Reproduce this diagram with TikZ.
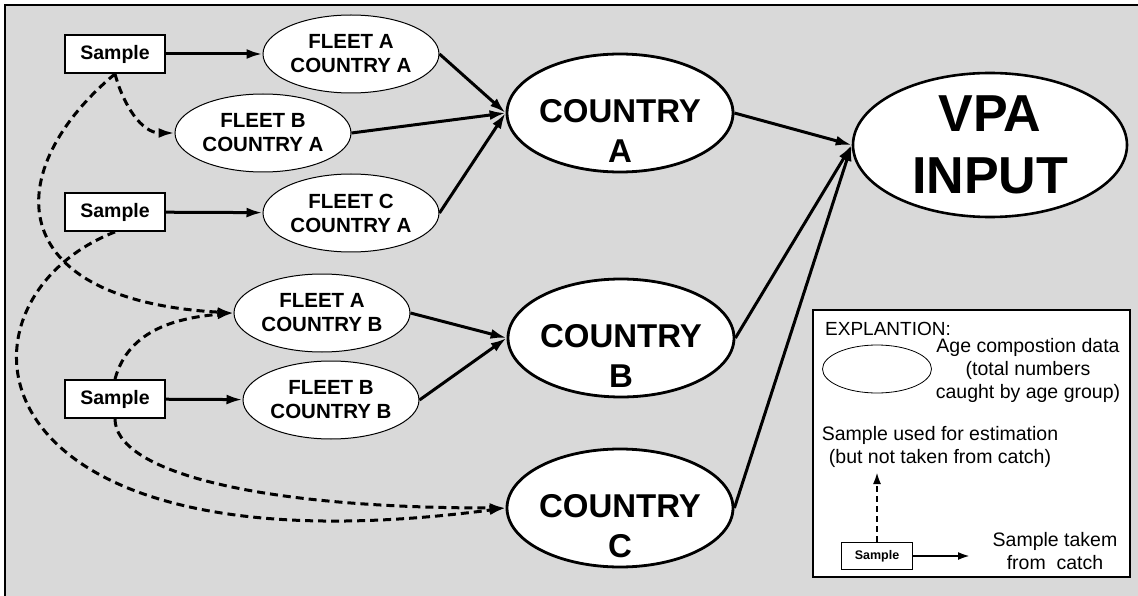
\documentclass[tikz,border=0pt]{standalone}
\usepackage{fontspec}
\setmainfont{Liberation Sans}
\usetikzlibrary{shapes,arrows,arrows.meta}

\begin{document}
\begin{tikzpicture}[x=1pt,y=-1pt]

  \tikzstyle{samplenode}=[draw,rectangle,fill=white,line width=1.8pt,minimum height=38pt,minimum width=100pt,inner sep=0pt,font=\fontsize{19.5}{22}\selectfont\bfseries]
  \tikzstyle{fleetnode}=[draw,ellipse,fill=white,line width=1pt,minimum height=78pt,minimum width=176pt,inner sep=0pt,align=center,font=\fontsize{20.5}{24}\selectfont\bfseries]
  \tikzstyle{countrynode}=[draw,ellipse,fill=white,line width=2.8pt,minimum height=118pt,minimum width=226pt,inner sep=0pt]
  \tikzstyle{countrylab}=[align=center,inner sep=0pt,yshift=-18pt,font=\fontsize{33}{40}\selectfont\bfseries]
  \tikzstyle{vpanode}=[draw,ellipse,fill=white,line width=2.6pt,minimum height=144pt,minimum width=274pt,inner sep=0pt,align=center,font=\fontsize{52}{62}\selectfont\bfseries]
  \tikzstyle{legtext}=[align=center,inner sep=0pt,font=\fontsize{19.5}{23}\selectfont]

  \tikzstyle{pointer}=[draw,-{Latex[length=16pt,width=10pt]},line width=3pt]
  \tikzstyle{dashptr}=[pointer,dash pattern=on 8pt off 5pt]
  \tikzstyle{legptr}=[draw,-{Latex[length=12pt,width=8pt]},line width=2.2pt]

  \useasboundingbox (0,0) rectangle (1138,596);

  % background and frame
  \fill[black!15] (5,5) rectangle (1138,596);
  \draw[line width=1.8pt] (5,596) -- (5,5) -- (1138,5);

  % nodes
  \node[samplenode] (s1) at (115,54) {Sample};
  \node[samplenode] (s2) at (115,212) {Sample};
  \node[samplenode] (s3) at (115,399) {Sample};

  \node[fleetnode] (fAA) at (351,54)  {FLEET A\\COUNTRY A};
  \node[fleetnode] (fBA) at (263,133) {FLEET B\\COUNTRY A};
  \node[fleetnode] (fCA) at (351,213) {FLEET C\\COUNTRY A};
  \node[fleetnode] (fAB) at (322,313) {FLEET A\\COUNTRY B};
  \node[fleetnode] (fBB) at (331,400) {FLEET B\\COUNTRY B};

  \node[countrynode,label={[countrylab]center:{COUNTRY\\A}}] (cA) at (620,113) {};
  \node[countrynode,label={[countrylab]center:{COUNTRY\\B}}] (cB) at (621,338) {};
  \node[countrynode,label={[countrylab]center:{COUNTRY\\C}}] (cC) at (620,508) {};

  \node[vpanode] (vpa) at (990,145) {VPA\\INPUT};

  % legend
  \node[draw,rectangle,fill=white,line width=1.8pt,minimum width=317pt,minimum height=267pt] (legend) at (971.5,443.5) {};
  \node[anchor=base west,inner sep=0pt,font=\fontsize{19}{23}\selectfont] (legtitle) at (825,335) {EXPLANTION:};
  \node[draw,ellipse,fill=white,line width=0.8pt,minimum width=109pt,minimum height=48pt] (legell) at (877,369) {};
  \node[legtext] (legage) at (1028,370) {Age compostion data\\(total numbers\\caught by age group)};
  \node[legtext] (legused) at (940,447) {Sample used for estimation\\(but not taken from catch)};
  \node[legtext] (legtaken) at (1055,551) {Sample takem\\from\ \ catch};
  \node[draw,rectangle,fill=white,line width=1.2pt,minimum width=71pt,minimum height=27pt,inner sep=0pt,font=\fontsize{12.5}{14}\selectfont\bfseries] (legsample) at (877,556) {Sample};
  \coordinate (legup) at (877,472);
  \coordinate (legright) at (970,556);

  % pointers
  \draw[pointer] (s1) -- (fAA);
  \draw[pointer] (s2) -- (fCA);
  \draw[pointer] (s3) -- (fBB);

  \draw[pointer] (fAA.east) -- (cA.west);
  \draw[pointer] (fBA.east) -- (cA.west);
  \draw[pointer] (fCA.east) -- (cA.west);
  \draw[pointer] (fAB.east) -- (cB.west);
  \draw[pointer] (fBB.east) -- (cB.west);

  \draw[pointer] (cA.east) -- (vpa.west);
  \draw[pointer] (cB.east) -- (vpa.west);
  \draw[pointer] (cC.east) -- (vpa.west);

  \draw[dashptr] (s1.south) to[out=-75,in=180] (fBA.west);
  \draw[dashptr] (s1.south) .. controls (0,170) and (0,300) .. (fAB.west);
  \draw[dashptr] (s2.south) .. controls (-60,300) and (-40,580) .. (cC.west);
  \draw[dashptr] (s3.north) to[out=75,in=185] (fAB.west);
  \draw[dashptr] (s3.south) .. controls (115,470) and (250,508) .. (cC.west);

  \draw[legptr,dash pattern=on 6pt off 4pt] (legsample.north) -- (legup);
  \draw[legptr] (legsample.east) -- (legright);

\end{tikzpicture}
\end{document}
